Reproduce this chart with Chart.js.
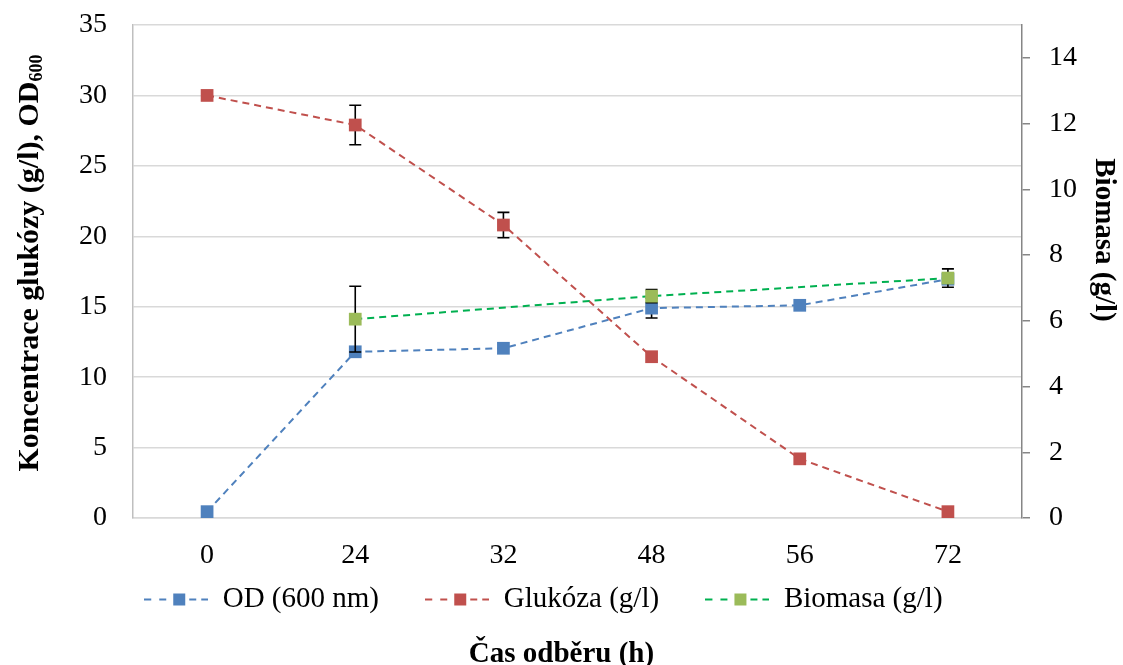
<!DOCTYPE html>
<html>
<head>
<meta charset="utf-8">
<script src="https://cdn.jsdelivr.net/npm/chart.js@4"></script>
<style>
  body { margin: 0; background: #fff; }
  #wrap { width: 1123px; height: 665px; }
</style>
</head>
<body>
<div id="wrap"><canvas id="myChart" width="1123" height="665"></canvas></div>
<script>
// odběrové časy (h)
const times = ['0', '24', '32', '48', '56', '72'];

// OD 600 nm
const odValues = [0.45, 11.8, 12.05, 14.9, 15.1, 16.95];
const odErrors = [0, 0, 0, 0.7, 0, 0];

// glukóza (g/l)
const glucoseValues = [30, 27.9, 20.8, 11.45, 4.2, 0.45];
const glucoseErrors = [0, 1.4, 0.9, 0, 0, 0];

// biomasa (g/l), pravá osa
const biomassValues = [null, 6.05, null, 6.75, null, 7.3];
const biomassErrors = [0, 1.0, 0, 0.2, 0, 0.28];

const leftTicks = { min: 0, max: 35, step: 5 };
const rightTicks = { min: 0, max: 15, step: 2 };

const serif = "'Liberation Serif', 'Times New Roman', serif";
Chart.defaults.font.family = serif;
Chart.defaults.color = '#000';

function legendIcon(lineColor, markColor) {
    const c = document.createElement('canvas');
    c.width = 64;
    c.height = 14;
    const g = c.getContext('2d');
    g.fillStyle = lineColor;
    [[0, 7], [15, 22], [45, 52], [57, 64]].forEach(s => g.fillRect(s[0], 6, s[1] - s[0], 2));
    g.fillStyle = markColor;
    g.fillRect(29, 1, 12, 12);
    return c;
}

const icons = [
    legendIcon('#4f81bd', '#4f81bd'),
    legendIcon('#c0504d', '#c0504d'),
    legendIcon('#00b050', '#9bbb59')
];

// chybové úsečky, kreslí se pod body každé série
const errorBars = {
    id: 'errorBars',
    beforeDatasetDraw(chart, args) {
        const ds = chart.data.datasets[args.index];
        if (!ds.errors) return;
        const yScale = chart.scales[args.meta.yAxisID];
        const ctx = chart.ctx;
        ctx.save();
        ctx.strokeStyle = '#000';
        ctx.lineWidth = 1.6;
        ds.data.forEach((v, j) => {
            const e = ds.errors[j];
            if (v === null || !e) return;
            const x = args.meta.data[j].x;
            const yt = yScale.getPixelForValue(v + e);
            const yb = yScale.getPixelForValue(v - e);
            ctx.beginPath();
            ctx.moveTo(x, yt); ctx.lineTo(x, yb);
            ctx.moveTo(x - 6, yt); ctx.lineTo(x + 6, yt);
            ctx.moveTo(x - 6, yb); ctx.lineTo(x + 6, yb);
            ctx.stroke();
        });
        ctx.restore();
    }
};

// popisky os (levý s dolním indexem)
const axisTitles = {
    id: 'axisTitles',
    afterDraw(chart) {
        const ctx = chart.ctx;
        const main = 'Koncentrace glukózy (g/l), OD';
        const sub = '600';
        ctx.save();
        ctx.fillStyle = '#000';
        ctx.textBaseline = 'middle';
        ctx.font = 'bold 30px ' + serif;
        const w1 = ctx.measureText(main).width;
        ctx.font = 'bold 18px ' + serif;
        const w2 = ctx.measureText(sub).width;
        ctx.translate(30, 263);
        ctx.rotate(-Math.PI / 2);
        const start = -(w1 + w2) / 2;
        ctx.font = 'bold 30px ' + serif;
        ctx.fillText(main, start, 0);
        ctx.font = 'bold 18px ' + serif;
        ctx.fillText(sub, start + w1, 7);
        ctx.restore();

        ctx.save();
        ctx.fillStyle = '#000';
        ctx.textBaseline = 'middle';
        ctx.textAlign = 'center';
        ctx.font = 'bold 29px ' + serif;
        ctx.translate(1103, 240);
        ctx.rotate(Math.PI / 2);
        ctx.fillText('Biomasa (g/l)', 0, 0);
        ctx.restore();
    }
};

function noLabelPadding(scale) {
    scale.paddingTop = 0;
    scale.paddingBottom = 0;
}

new Chart(document.getElementById('myChart'), {
    type: 'line',
    data: {
        labels: times,
        datasets: [{
            label: 'OD (600 nm)',
            data: odValues,
            errors: odErrors,
            yAxisID: 'y',
            borderColor: '#4f81bd',
            backgroundColor: '#4f81bd',
            borderWidth: 2,
            borderDash: [7, 5],
            pointStyle: 'rect',
            pointRadius: 9,
            pointBorderWidth: 0,
            order: 2
        }, {
            label: 'Glukóza (g/l)',
            data: glucoseValues,
            errors: glucoseErrors,
            yAxisID: 'y',
            borderColor: '#c0504d',
            backgroundColor: '#c0504d',
            borderWidth: 2,
            borderDash: [7, 5],
            pointStyle: 'rect',
            pointRadius: 9,
            pointBorderWidth: 0,
            order: 1
        }, {
            label: 'Biomasa (g/l)',
            data: biomassValues,
            errors: biomassErrors,
            yAxisID: 'y1',
            spanGaps: true,
            borderColor: '#00b050',
            backgroundColor: '#9bbb59',
            borderWidth: 2,
            borderDash: [7, 5],
            pointStyle: 'rect',
            pointRadius: 9,
            pointBorderWidth: 0,
            order: 0
        }]
    },
    options: {
        responsive: false,
        animation: false,
        layout: { padding: { top: 25, left: 0, right: 0, bottom: 0 } },
        scales: {
            x: {
                type: 'category',
                offset: true,
                grid: { display: false, drawTicks: false },
                border: { color: '#d9d9d9', width: 1.5 },
                ticks: { font: { size: 28 }, padding: 21, color: '#000' },
                afterFit(scale) { scale.height = 57; }
            },
            y: {
                position: 'left',
                min: leftTicks.min,
                max: leftTicks.max,
                ticks: { stepSize: leftTicks.step, font: { size: 28 }, padding: 26, color: '#000' },
                grid: { color: '#d9d9d9', lineWidth: 1.5, drawTicks: false },
                border: { color: '#bfbfbf', width: 1.5 },
                afterFit(scale) { scale.width = 133; noLabelPadding(scale); }
            },
            y1: {
                position: 'right',
                min: rightTicks.min,
                max: rightTicks.max,
                ticks: { stepSize: rightTicks.step, includeBounds: false, font: { size: 28 }, padding: 19, color: '#000' },
                grid: { drawOnChartArea: false, color: '#868686', tickLength: 8, lineWidth: 1.5 },
                border: { color: '#868686', width: 1.5 },
                afterFit(scale) { scale.width = 101; noLabelPadding(scale); }
            }
        },
        plugins: {
            tooltip: { enabled: false },
            legend: {
                position: 'bottom',
                labels: {
                    usePointStyle: true,
                    pointStyleWidth: 64,
                    padding: 10,
                    color: '#000',
                    font: { size: 29 },
                    generateLabels(chart) {
                        return chart.data.datasets.map((ds, i) => ({
                            // mezery za textem = rozestup položek legendy
                            text: ds.label + '\u00a0\u00a0\u00a0\u00a0\u00a0',
                            pointStyle: icons[i],
                            fillStyle: ds.backgroundColor,
                            strokeStyle: ds.borderColor,
                            lineWidth: 0,
                            hidden: false,
                            fontColor: '#000',
                            datasetIndex: i
                        }));
                    }
                }
            },
            title: {
                display: true,
                position: 'bottom',
                text: 'Čas odběru (h)',
                color: '#000',
                font: { size: 29, weight: 'bold', lineHeight: 1.0 },
                padding: { top: 16, bottom: -4 }
            }
        }
    },
    plugins: [errorBars, axisTitles]
});
</script>
</body>
</html>
